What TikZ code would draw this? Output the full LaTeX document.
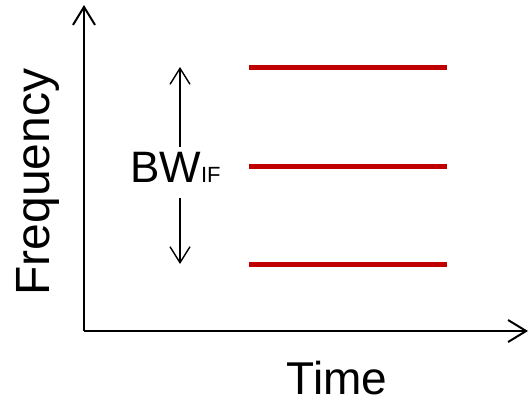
\documentclass[tikz,border=0pt]{standalone}
\usepackage{fontspec}
\setmainfont{Liberation Sans}
\usetikzlibrary{arrows.meta}
\definecolor{lineRed}{RGB}{192,0,0}
\tikzset{
  axis/.style={line width=2pt,-{Straight Barb[length=18pt,width=22pt]}},
  bwarrow/.style={line width=1.4pt,-{Straight Barb[length=16pt,width=20pt]}},
  redline/.style={line width=5pt,lineRed},
  lbl/.style={inner sep=0pt,font=\fontsize{44}{48}\selectfont}
}
\begin{document}
\begin{tikzpicture}[x=1pt,y=-1pt]
\useasboundingbox (0,0) rectangle (529,400);
\coordinate (O) at (84,331);
\coordinate (Ytop) at (84,5);
\coordinate (Xend) at (528,331);
\draw[axis] (O) -- (Ytop);
\draw[axis] (O) -- (Xend);
\coordinate (r1a) at (249,67);  \coordinate (r1b) at (447,67);
\coordinate (r2a) at (249,166); \coordinate (r2b) at (447,166);
\coordinate (r3a) at (249,264); \coordinate (r3b) at (447,264);
\draw[redline] (r1a) -- (r1b);
\draw[redline] (r2a) -- (r2b);
\draw[redline] (r3a) -- (r3b);
\node[lbl,anchor=base west] (bw) at (130,182) {BW{\fontsize{22}{24}\selectfont IF}};
\coordinate (upS) at (180,147);
\coordinate (upE) at (180,67);
\coordinate (dnS) at (180,198);
\coordinate (dnE) at (180,264);
\draw[bwarrow] (upS) -- (upE);
\draw[bwarrow] (dnS) -- (dnE);
\node[lbl,anchor=base,rotate=90,font=\fontsize{48}{52}\selectfont] (freq) at (49,182) {Frequency};
\node[lbl,anchor=base,font=\fontsize{46}{50}\selectfont] (time) at (337,394) {Time};
\end{tikzpicture}
\end{document}
